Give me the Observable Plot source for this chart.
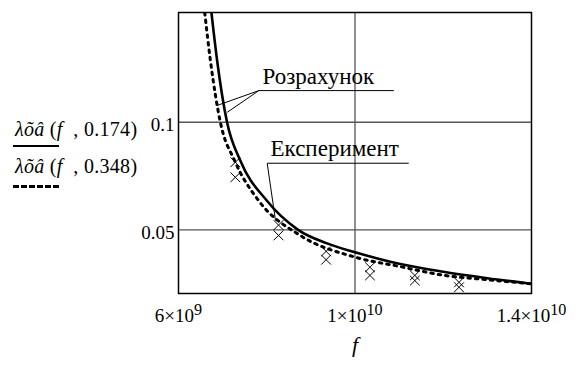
<!DOCTYPE html>
<html><head><meta charset="utf-8">
<script src="https://cdn.jsdelivr.net/npm/d3@7"></script>
<script src="https://cdn.jsdelivr.net/npm/@observablehq/plot@0.6"></script>
<style>
body{margin:0;background:#fff;}
#wrap{position:relative;width:581px;height:367px;font-family:serif;}
#wrap text, #wrap tspan{font-family:serif !important;}
.lg{position:absolute;left:15px;font-family:"Liberation Serif",serif;font-size:20px;line-height:20px;white-space:pre;letter-spacing:0.3px;}
.ln{position:absolute;left:13px;width:46px;height:0;}
</style></head><body><div id="wrap"></div>
<script>
// Calculated curve, parameter 0.174 (solid)
const solidF = [6.746e9, 6.875e9, 7.10e9, 7.40e9, 8.0e9, 8.71e9, 9.35e9, 1.0e10, 1.1e10, 1.2e10, 1.3e10, 1.4e10];
const solidV = [0.151, 0.1287, 0.100, 0.0822, 0.0636, 0.050, 0.0438, 0.0396, 0.0342, 0.0305, 0.0275, 0.0249];
// Calculated curve, parameter 0.348 (dotted)
const dotF = [6.594e9, 6.723e9, 6.949e9, 7.27e9, 7.815e9, 8.757e9, 1.0e10, 1.1e10, 1.2e10, 1.3e10, 1.4e10];
const dotV = [0.151, 0.1287, 0.100, 0.0822, 0.0636, 0.0474, 0.0373, 0.0330, 0.0289, 0.0268, 0.0249];
// Experiment points
const expF = [7.288e9, 7.288e9, 8.267e9, 8.267e9, 9.345e9, 9.345e9, 1.0339e10, 1.0339e10, 1.1356e10, 1.1356e10, 1.2357e10, 1.2357e10];
const expV = [0.0814, 0.0744, 0.0522, 0.0474, 0.0400, 0.0361, 0.0326, 0.0288, 0.0288, 0.0264, 0.0256, 0.0233];
// Axes
const xTicks = [6e9, 1e10, 1.4e10];
const xTickLabels = ["6×10^9", "1×10^10", "1.4×10^10"];
const yTicks = [0.05, 0.1];
const yTickLabels = ["0.05", "0.1"];
const xLabel = "f";
// Legend
const legendParams = ["0.174", "0.348"];
// Annotations
const annTexts = ["Розрахунок", "Експеримент"];
const annF = [7.904e9, 8.085e9];
const annV = [0.1178, 0.0845];
const leadX1 = [7.82e9, 7.82e9, 7.82e9, 8.010e9, 8.010e9];
const leadY1 = [0.1147, 0.1147, 0.1147, 0.08095, 0.08095];
const leadX2 = [1.0879e10, 6.877e9, 7.104e9, 1.1219e10, 8.198e9];
const leadY2 = [0.1147, 0.1078, 0.1046, 0.08095, 0.05432];

const solid = solidF.map((f, i) => ({f, v: solidV[i]}));
const dotted = dotF.map((f, i) => ({f, v: dotV[i]}));
const exp = expF.map((f, i) => ({f, v: expV[i]}));
const ann = annTexts.map((t, i) => ({t, f: annF[i], v: annV[i]}));
const leads = leadX1.map((x1, i) => ({x1, y1: leadY1[i], x2: leadX2[i], y2: leadY2[i]}));

const chart = Plot.plot({
  width: 581, height: 367,
  marginLeft: 178, marginRight: 50, marginTop: 12, marginBottom: 74,
  style: {fontSize: "19px", fontFamily: "serif", background: "white", color: "black"},
  x: {domain: [6e9, 1.4e10]},
  y: {domain: [0.0204, 0.151]},
  marks: [
    Plot.ruleX([1e10], {stroke: "#555", strokeWidth: 1.3}),
    Plot.ruleY(yTicks, {stroke: "#555", strokeWidth: 1.3}),
    Plot.line(solid, {x: "f", y: "v", stroke: "black", strokeWidth: 2.6, curve: "monotone-x", clip: true}),
    Plot.line(dotted, {x: "f", y: "v", stroke: "black", strokeWidth: 3, strokeDasharray: "2.5,5", curve: "monotone-x", clip: true}),
    Plot.dot(exp, {x: "f", y: "v", symbol: "times", r: 4.5, stroke: "black", strokeWidth: 1}),
    Plot.link(leads, {x1: "x1", y1: "y1", x2: "x2", y2: "y2", stroke: "black", strokeWidth: 1}),
    Plot.text(ann, {x: "f", y: "v", text: "t", textAnchor: "start", lineAnchor: "bottom", fontSize: 23}),
    Plot.frame({stroke: "black", strokeWidth: 1.5}),
    Plot.axisX(xTicks, {tickSize: 0, tickPadding: 15, tickFormat: d => xTickLabels[xTicks.indexOf(d)], label: null}),
    Plot.axisY(yTicks, {tickSize: 0, tickPadding: 4, tickFormat: d => yTickLabels[yTicks.indexOf(d)], label: null, dy: 3}),
    Plot.text([{f: 1e10, t: xLabel}], {x: "f", text: "t", frameAnchor: "bottom", dy: 58, fontStyle: "italic", fontSize: 22})
  ]
});
const wrap = document.getElementById("wrap");
wrap.appendChild(chart);
chart.setAttribute("font-family", "serif");
d3.select(chart).selectAll("[font-family]").attr("font-family", "serif");

// superscript exponents in tick labels
d3.select(chart).selectAll("text").each(function() {
  const s = this.textContent;
  if (s.includes("^")) {
    const [base, ex] = s.split("^");
    const el = d3.select(this);
    el.text(base);
    el.append("tspan").attr("dy", "-0.42em").attr("font-size", "0.85em").text(ex);
  }
});

// legend (HTML)
const legTop = [119, 156];
const legLineY = [146.7, 186];
legendParams.forEach((p, i) => {
  const t = document.createElement("div");
  t.className = "lg";
  t.style.top = legTop[i] + "px";
  t.innerHTML = "<i>λõâ</i> (<i>f</i>  , " + p + ")";
  wrap.appendChild(t);
  const l = document.createElement("div");
  l.className = "ln";
  l.style.top = (legLineY[i] - 1.5) + "px";
  l.style.borderTop = i === 0 ? "2.6px solid black" : "3px dashed black";
  wrap.appendChild(l);
});
</script></body></html>
